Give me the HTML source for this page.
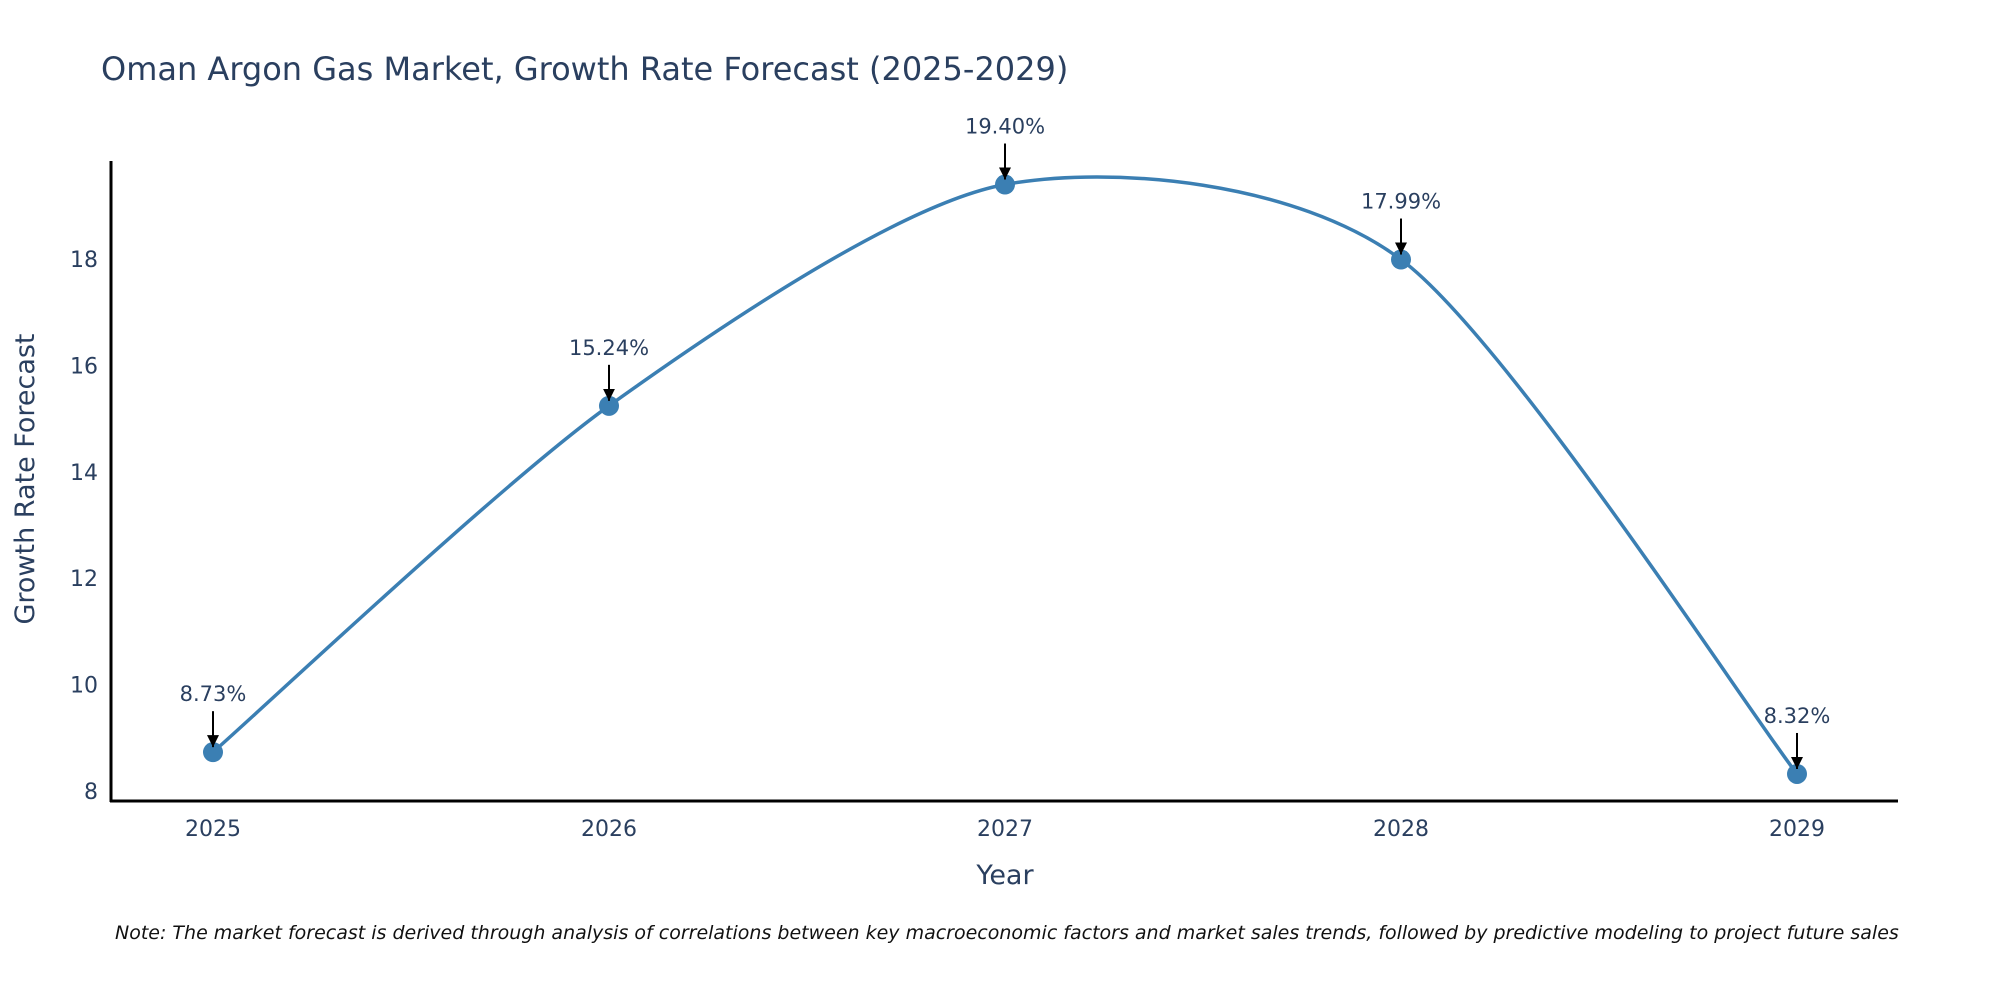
<!DOCTYPE html>
<html><head><meta charset="utf-8"><style>
body{margin:0;background:#fff}
svg{font-family:"DejaVu Sans","Liberation Sans",sans-serif}
</style></head><body>
<svg width="2000" height="1000" viewBox="0 0 2000 1000">
<defs><marker id="ah" viewBox="0 0 10 10" refX="10" refY="5" markerWidth="6" markerHeight="6" orient="auto"><path d="M0,0 L10,5 L0,10 z" fill="#000"/></marker></defs>
<text x="101" y="80" font-size="32" fill="#2a3f5f">Oman Argon Gas Market, Growth Rate Forecast (2025-2029)</text>
<g id="yticks"></g><g id="xticks"></g>
<line x1="111" y1="161" x2="111" y2="802" stroke="#000" stroke-width="3"/>
<line x1="110" y1="801" x2="1898" y2="801" stroke="#000" stroke-width="3"/>
<path id="curve" fill="none" stroke="#3b7fb3" stroke-width="3.5"/>
<g id="pts"></g><g id="ann"></g>
<text transform="translate(34,479) rotate(-90)" text-anchor="middle" font-size="27" fill="#2a3f5f">Growth Rate Forecast</text>
<text x="1005" y="884" text-anchor="middle" font-size="27" fill="#2a3f5f">Year</text>
<text x="115" y="939" font-size="19" font-style="italic" fill="#111">Note: The market forecast is derived through analysis of correlations between key macroeconomic factors and market sales trends, followed by predictive modeling to project future sales</text>
</svg>
<script>
const years=[2025,2026,2027,2028,2029];
const values=[8.73,15.24,19.40,17.99,8.32];
const labels=["8.73%","15.24%","19.40%","17.99%","8.32%"];
const yTicks=[8,10,12,14,16,18];
const NS="http://www.w3.org/2000/svg";
function X(yr){return 213+(yr-2025)*396;}
function Y(v){return 791-(v-8)*53.2;}
function mk(t,a,p){const e=document.createElementNS(NS,t);for(const k in a)e.setAttribute(k,a[k]);p.appendChild(e);return e;}
const yt=document.getElementById('yticks');
yTicks.forEach(v=>{const t=mk('text',{x:98,y:Y(v)+8,'text-anchor':'end','font-size':22,fill:'#2a3f5f'},yt);t.textContent=v;

});
const xt=document.getElementById('xticks');
years.forEach(yr=>{const t=mk('text',{x:X(yr),y:836,'text-anchor':'middle','font-size':22,fill:'#2a3f5f'},xt);t.textContent=yr;

});
const P=years.map((yr,i)=>[X(yr),Y(values[i])]);
let d='M'+P[0][0]+','+P[0][1];
const k=7.5;
for(let i=0;i<P.length-1;i++){const p0=P[Math.max(0,i-1)],p1=P[i],p2=P[i+1],p3=P[Math.min(P.length-1,i+2)];
const c1=[p1[0]+(p2[0]-p0[0])/k,p1[1]+(p2[1]-p0[1])/k],c2=[p2[0]-(p3[0]-p1[0])/k,p2[1]-(p3[1]-p1[1])/k];
d+=' C'+c1+' '+c2+' '+p2;}
document.getElementById('curve').setAttribute('d',d);
const pg=document.getElementById('pts'),ag=document.getElementById('ann');
P.forEach((p,i)=>{const c=mk('circle',{cx:p[0],cy:p[1],r:10,fill:'#3b7fb3'},pg);


const l=mk('line',{x1:p[0],y1:p[1]-41,x2:p[0],y2:p[1]-5,stroke:'#000','stroke-width':2,'marker-end':'url(#ah)'},ag);


const t=mk('text',{x:p[0],y:p[1]-51,'text-anchor':'middle','font-size':21,fill:'#2a3f5f'},ag);t.textContent=labels[i];

});
</script>
</body></html>
